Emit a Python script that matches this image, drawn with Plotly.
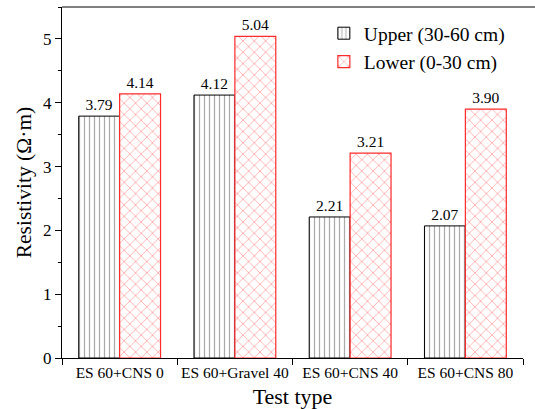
import plotly.graph_objects as go

categories = ["ES 60+CNS 0", "ES 60+Gravel 40", "ES 60+CNS 40", "ES 60+CNS 80"]
upper_vals = [3.79, 4.12, 2.21, 2.07]
lower_vals = [4.14, 5.04, 3.21, 3.90]
y_ticks = [0, 1, 2, 3, 4, 5]

FONT = "Liberation Serif"

fig = go.Figure()
fig.add_trace(go.Bar(
    x=categories, y=upper_vals, name="Upper (30-60 cm)",
    marker=dict(color="white", line=dict(color="black", width=1),
                pattern=dict(shape="|", fgcolor="#555555", bgcolor="white",
                             size=5, solidity=0.25, fillmode="overlay")),
    texttemplate="%{y:.2f}", textposition="outside", cliponaxis=False,
    textfont=dict(family=FONT, size=15.5, color="black"),
))
fig.add_trace(go.Bar(
    x=categories, y=lower_vals, name="Lower (0-30 cm)",
    marker=dict(color="white", line=dict(color="#ff2a2a", width=1.2),
                pattern=dict(shape="x", fgcolor="#ff3b3b", bgcolor="white",
                             size=8, solidity=0.18, fillmode="overlay")),
    texttemplate="%{y:.2f}", textposition="outside", cliponaxis=False,
    textfont=dict(family=FONT, size=15.5, color="black"),
))

fig.update_layout(
    width=535, height=409,
    margin=dict(l=62, r=12, t=7, b=51, autoexpand=False),
    paper_bgcolor="white", plot_bgcolor="white",
    barmode="group", bargap=0.29, bargroupgap=0,
    font=dict(family=FONT, color="black"),
    showlegend=True,
    legend=dict(x=0.568, y=0.98, xanchor="left", yanchor="top",
                font=dict(family=FONT, size=19.5, color="black"),
                bgcolor="rgba(0,0,0,0)", tracegroupgap=0),
    xaxis=dict(
        showline=True, linecolor="black", linewidth=1,
        ticks="outside", tickson="boundaries", ticklen=6, tickcolor="black",
        tickangle=0, automargin=False,
        tickfont=dict(family=FONT, size=15.5, color="black"),
        title=dict(text="Test type", font=dict(family=FONT, size=22), standoff=11),
        showgrid=False, mirror=False,
    ),
    yaxis=dict(
        range=[0, 5.5], tickvals=y_ticks, automargin=False,
        showline=True, linecolor="black", linewidth=1,
        ticks="outside", ticklen=6, tickcolor="black",
        minor=dict(dtick=0.5, ticks="outside", ticklen=3, tickcolor="black"),
        tickfont=dict(family=FONT, size=17, color="black"),
        title=dict(text="Resistivity (Ω·m)", font=dict(family=FONT, size=21.5), standoff=5),
        showgrid=False, zeroline=False,
    ),
)
fig.add_shape(type="line", xref="paper", yref="paper", x0=0, x1=1.03, y0=1, y1=1,
              line=dict(color="black", width=1))

fig.write_html("out.html")
